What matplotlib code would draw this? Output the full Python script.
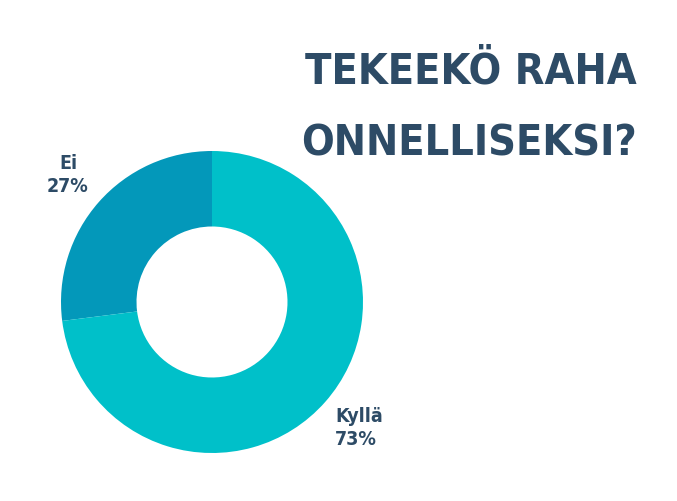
import matplotlib
matplotlib.use("Agg")
import matplotlib.pyplot as plt

# Survey answers
labels = ["Ei", "Kyllä"]
shares = [27, 73]
colors = ["#0398BA", "#00C0C9"]
title_lines = ["TEKEEKÖ RAHA", "ONNELLISEKSI?"]

W, H = 677, 501
fig = plt.figure(figsize=(W / 100, H / 100), dpi=100)
ax = fig.add_axes([0, 0, 1, 1])

cx, cy, r = 212, H - 302, 151
ax.pie(shares, colors=colors, startangle=90, counterclock=True,
       radius=r, center=(cx, cy), frame=True,
       wedgeprops=dict(width=r * 0.5, linewidth=0))
ax.set_xlim(0, W)
ax.set_ylim(0, H)
ax.set_aspect("equal")
ax.axis("off")

navy = "#2D4B66"
font = dict(family="DejaVu Sans", fontstretch="condensed", weight="bold", color=navy)

ax.text(637, H - 71, title_lines[0], ha="right", va="center", fontsize=31, **font)
ax.text(637, H - 143, title_lines[1], ha="right", va="center", fontsize=31, **font)

ax.text(68, H - 175, f"{labels[0]}\n{shares[0]}%", ha="center", va="center",
        fontsize=14, linespacing=1.3, **font)
ax.text(335, H - 428, f"{labels[1]}\n{shares[1]}%", ha="left", va="center",
        fontsize=14, linespacing=1.3, **font)

fig.savefig("out.png", dpi=100, facecolor="white")
